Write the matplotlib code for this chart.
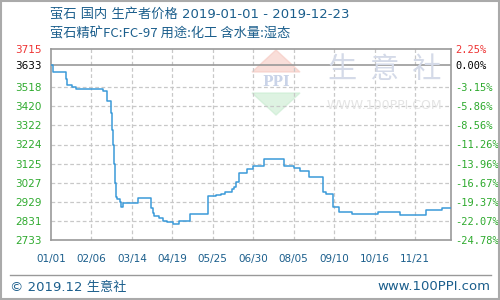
import matplotlib
matplotlib.use("Agg")
import matplotlib.pyplot as plt
from matplotlib.patches import Polygon, Rectangle

plt.rcParams['font.family'] = ['Noto Sans CJK SC', 'DejaVu Sans']

# 数据: 距 2019-01-01 的天数, 价格 (元/吨)
dias = [0, 2, 13, 14, 19, 22, 46, 50, 53, 54, 55, 56, 57, 58, 59, 61, 62, 64,
        77, 89, 91, 92, 96, 100, 103, 109, 114, 124, 140, 147, 151, 155, 161,
        163, 165, 167, 174, 180, 190, 207, 216, 222, 230, 242, 245, 251, 256,
        268, 291, 311, 334, 348, 356]
precios = [3633, 3595, 3561, 3530, 3520, 3509, 3499, 3448, 3384, 3299, 3221,
           3124, 3025, 2956, 2944, 2930, 2904, 2922, 2947, 2896, 2870, 2856,
           2845, 2832, 2824, 2814, 2832, 2865, 2958, 2964, 2970, 2978, 2994,
           3004, 3030, 3076, 3098, 3114, 3148, 3114, 3105, 3090, 3059, 2981,
           2968, 2904, 2879, 2865, 2875, 2862, 2887, 2896, 2896]

y_ticks = [3715, 3633, 3518, 3420, 3322, 3224, 3125, 3027, 2929, 2831, 2733]
pct_labels = ["2.25%", "0.00%", "-3.15%", "-5.86%", "-8.56%", "-11.26%",
              "-13.96%", "-16.67%", "-19.37%", "-22.07%", "-24.78%"]
x_ticks = [0, 36, 72, 108, 144, 180, 216, 252, 288, 324]
x_labels = ["01/01", "02/06", "03/14", "04/19", "05/25", "06/30", "08/05",
            "09/10", "10/16", "11/21"]
base = 3633

azul = "#1b5e8c"
verde = "#2eaa2e"
rojo = "#ee3333"
latin_first = ['DejaVu Sans', 'Noto Sans CJK SC']

fig = plt.figure(figsize=(5, 3), dpi=100)
ax = fig.add_axes([51 / 500, 60 / 300, 400 / 500, 191 / 300])

# marca de agua
fig.add_artist(Polygon([[276 / 500, 1 - 50 / 300], [300 / 500, 1 - 72 / 300], [252 / 500, 1 - 72 / 300]],
                       closed=True, color="#f6c8c0", alpha=0.6, transform=fig.transFigure, zorder=0))
fig.add_artist(Polygon([[252 / 500, 1 - 93 / 300], [300 / 500, 1 - 93 / 300], [276 / 500, 1 - 115 / 300]],
                       closed=True, color="#c8ecd0", alpha=0.6, transform=fig.transFigure, zorder=0))
fig.text(276 / 500, 1 - 82 / 300, "PPI", fontsize=10, color="#c9d3e8", ha="center", va="center",
         fontweight="bold", family="DejaVu Serif", zorder=0)
fig.text(385 / 500, 1 - 70 / 300, "生  意  社", fontsize=21, color="#d4dae8", ha="center", va="center", zorder=0)
fig.text(384 / 500, 1 - 106 / 300, "WWW.100PPI.COM", fontsize=9, color="#e4e4e4", ha="center", va="center",
         family="DejaVu Sans", zorder=0)

ax.patch.set_alpha(0)
ax.step(dias, precios, where="post", color="#3a9ad9", lw=1.1, zorder=3)

ax.set_xlim(0, 356)
ax.set_ylim(2733, 3715)

for v in y_ticks[2:-1]:
    ax.axhline(v, color="#c8c8c8", lw=0.9, ls=(0, (3, 2)), zorder=1)
ax.axhline(base, color="#999999", lw=1.2, zorder=2)
for d in x_ticks[1:]:
    ax.axvline(d, color="#c8c8c8", lw=0.9, ls=(0, (3, 2)), zorder=1)

for s in ax.spines.values():
    s.set_color("#999999")
    s.set_linewidth(1.2)

ax.set_yticks(y_ticks)
ax.set_yticklabels([str(v) for v in y_ticks], fontsize=7.5, family="DejaVu Sans")
for i, t in enumerate(ax.get_yticklabels()):
    t.set_color(rojo if i == 0 else ("black" if i == 1 else verde))
ax.set_xticks(x_ticks)
ax.set_xticklabels(x_labels, fontsize=7.5, color=azul, family="DejaVu Sans")
ax.tick_params(length=0, pad=7)
ax.tick_params(axis="x", pad=10)

ax2 = ax.twinx()
ax2.set_ylim(2733, 3715)
ax2.set_yticks(y_ticks)
ax2.set_yticklabels(pct_labels, fontsize=7.5, family="DejaVu Sans Mono")
for i, t in enumerate(ax2.get_yticklabels()):
    t.set_color(rojo if i == 0 else ("black" if i == 1 else verde))
ax2.tick_params(length=0, pad=3)
for s in ax2.spines.values():
    s.set_visible(False)

fig.text(50 / 500, 1 - 15 / 300, "萤石 国内 生产者价格 2019-01-01 - 2019-12-23", fontsize=9.5, color=azul,
         ha="left", va="center", family=latin_first)
fig.text(50 / 500, 1 - 34 / 300, "萤石精矿FC:FC-97 用途:化工 含水量:湿态", fontsize=9.5, color=azul,
         ha="left", va="center")

fig.add_artist(plt.Line2D([10 / 500, 491 / 500], [1 - 275 / 300, 1 - 275 / 300], color="#999999", lw=1,
                          transform=fig.transFigure))
fig.text(10 / 500, 1 - 287 / 300, "© 2019.12 生意社", fontsize=9.5, color=azul, ha="left", va="center",
         family=latin_first)
fig.text(490 / 500, 1 - 287 / 300, "www.100PPI.com", fontsize=9.5, color=azul, ha="right", va="center",
         family="DejaVu Sans")

fig.add_artist(Rectangle((0.001, 0.002), 0.997, 0.995, fill=False, edgecolor="#aaaaaa", lw=1.5,
                         transform=fig.transFigure))

fig.savefig("out.png", dpi=100)
